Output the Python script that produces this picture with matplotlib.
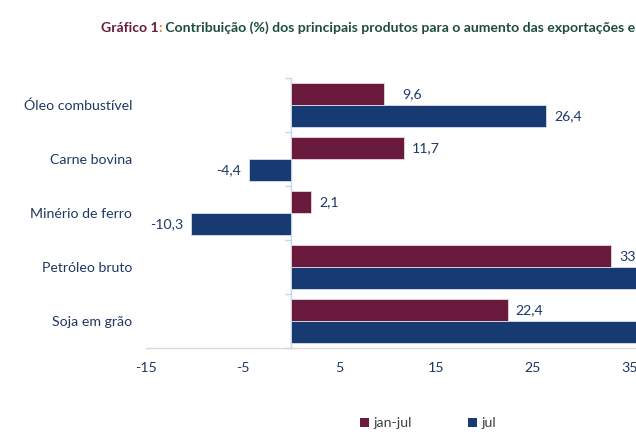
import matplotlib
matplotlib.use("Agg")
import matplotlib.pyplot as plt
from matplotlib.patches import Patch

categories = ["Óleo combustível", "Carne bovina", "Minério de ferro", "Petróleo bruto", "Soja em grão"]
jan_jul = [9.6, 11.7, 2.1, 33.1, 22.4]
jul = [26.4, -4.4, -10.3, 42.0, 38.5]
series_names = ["jan-jul", "jul"]
xticks = [-15, -5, 5, 15, 25, 35]
title_a = "Gráfico 1"
title_b = ":"
title_c = " Contribuição (%) dos principais produtos para o aumento das exportações entre jan-jul/2022 e jan-jul/2021"

MAROON = "#6a1a3c"
NAVY = "#173a73"
TXT = "#1f3864"
FONT = "Lato"
plt.rcParams["font.family"] = [FONT, "DejaVu Sans"]

W, H = 636, 446
fig = plt.figure(figsize=(W / 100, H / 100), dpi=100)
x0, x1 = -15, 45
left_px, top_px, bot_px = 146, 78, 348
ppu = 9.67
right_px = left_px + (x1 - x0) * ppu
ax = fig.add_axes([left_px / W, 1 - bot_px / H, (right_px - left_px) / W, (bot_px - top_px) / H])

n = len(categories)
ys = list(range(n))
h = 0.4
b1 = ax.barh([y - h / 2 for y in ys], jan_jul, height=h, color=MAROON, edgecolor="#e8d8e0", linewidth=0.6)
b2 = ax.barh([y + h / 2 for y in ys], jul, height=h, color=NAVY, edgecolor="#d8e0ee", linewidth=0.6)
ax.set_ylim(n - 0.5, -0.5)
ax.set_xlim(x0, x1)

fs = 10.2
extra = {0: 10}
for bars, vals, off_extra in ((b1, jan_jul, extra), (b2, jul, {})):
    for i, (bar, v) in enumerate(zip(bars, vals)):
        # labels whose anchor lies beyond the visible figure are not shown in the reference
        if left_px + (v - x0) * ppu > W - 20:
            continue
        off = 8 + off_extra.get(i, 0)
        ax.annotate(f"{v:.1f}".replace(".", ","), xy=(v, bar.get_y() + bar.get_height() / 2),
                    xytext=(off if v >= 0 else -off, 0), textcoords="offset pixels",
                    ha="left" if v >= 0 else "right", va="center", fontsize=fs, color=TXT,
                    annotation_clip=False)

ax.set_yticks(ys)
ax.set_yticklabels(categories, fontsize=fs, color=TXT)
ax.tick_params(axis="y", length=0, pad=10)
ax.set_xticks(xticks)
ax.set_xticklabels([str(t) for t in xticks], fontsize=fs, color=TXT)
ax.tick_params(axis="x", length=0, pad=10)
for s in ("left", "right", "top"):
    ax.spines[s].set_visible(False)
ax.spines["bottom"].set_color("#d9d9d9")
ax.spines["bottom"].set_linewidth(1.0)

sec = ax.secondary_yaxis((0 - x0) / (x1 - x0))
sec.set_yticks([y - 0.5 for y in ys] + [n - 0.5])
sec.set_yticklabels([])
sec.tick_params(axis="y", length=4, color="#bdd7ee", width=1)
sec.spines["left"].set_color("#bdd7ee")
sec.spines["left"].set_linewidth(1.0)

tfs = 10.1
t1 = fig.text(101 / W, 1 - 28 / H, title_a, fontsize=tfs, fontweight="bold", color="#6a1a3c", ha="left", va="center")
t2 = fig.text(0, 0, title_b, fontsize=tfs, fontweight="bold", color="#e07b2a", ha="left", va="bottom")
t3 = fig.text(0, 0, title_c, fontsize=tfs, fontweight="bold", color="#1e4d3a", ha="left", va="bottom")
fig.canvas.draw()
r = fig.canvas.get_renderer()
bb1 = t1.get_window_extent(r)
t2.set_position((bb1.x1 / W, bb1.y0 / H))
bb2 = t2.get_window_extent(r)
t3.set_position((bb2.x1 / W, bb1.y0 / H))

handles = [Patch(facecolor=MAROON, edgecolor="none"), Patch(facecolor=NAVY, edgecolor="none")]
fig.legend(handles, series_names, loc="center", bbox_to_anchor=(428 / W, 1 - 423 / H), ncol=2, frameon=False,
           fontsize=fs, handlelength=0.6, handleheight=0.6, handletextpad=0.3, columnspacing=4.0,
           labelcolor="#404040")

fig.savefig("out.png", dpi=100)
